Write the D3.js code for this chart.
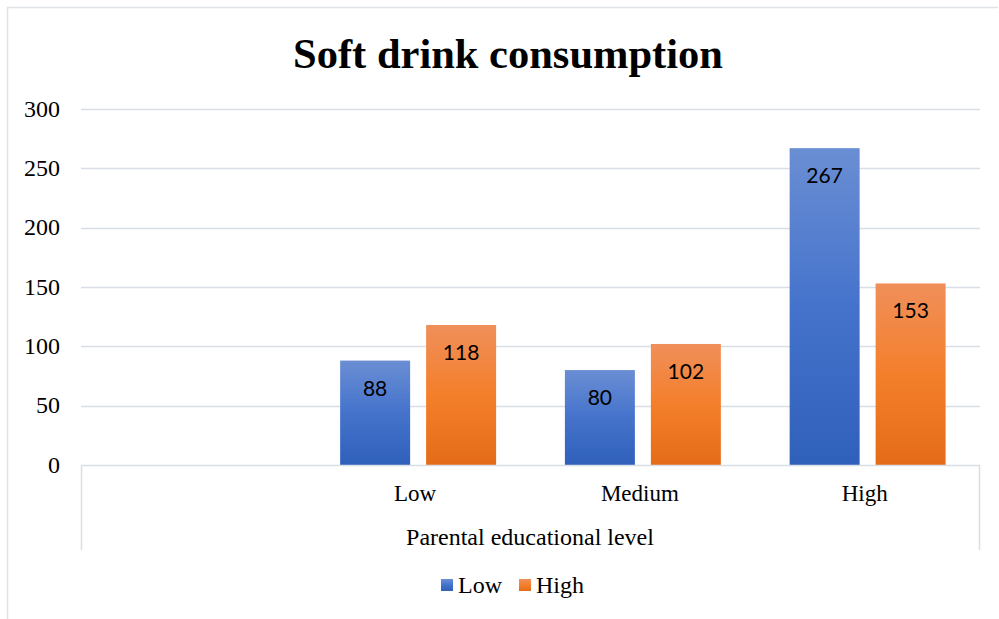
<!DOCTYPE html>
<html lang="en">
<head>
<meta charset="UTF-8">
<title>Soft drink consumption</title>
<script src="https://cdn.jsdelivr.net/npm/d3@7"></script>
<style>
  html, body { margin: 0; padding: 0; background: #fff; }
</style>
</head>
<body>
<script>
  // data
  const categories = ["", "Low", "Medium", "High"];
  const seriesNames = ["Low", "High"];
  const lowValues = [null, 88, 80, 267];
  const highValues = [null, 118, 102, 153];
  const yTicks = [0, 50, 100, 150, 200, 250, 300];

  const width = 999, height = 619;
  const plot = { left: 81, right: 980, top: 109, bottom: 465 };
  const serif = "'Liberation Serif', 'Times New Roman', serif";

  const svg = d3.select("body").append("svg")
    .attr("width", width)
    .attr("height", height);

  const defs = svg.append("defs");
  const gradBlue = defs.append("linearGradient").attr("id", "gBlue")
    .attr("x1", 0).attr("y1", 0).attr("x2", 0).attr("y2", 1);
  gradBlue.append("stop").attr("offset", "0%").attr("stop-color", "#6a8ed3");
  gradBlue.append("stop").attr("offset", "50%").attr("stop-color", "#4573cc");
  gradBlue.append("stop").attr("offset", "100%").attr("stop-color", "#2f60ba");
  const gradOrange = defs.append("linearGradient").attr("id", "gOrange")
    .attr("x1", 0).attr("y1", 0).attr("x2", 0).attr("y2", 1);
  gradOrange.append("stop").attr("offset", "0%").attr("stop-color", "#f08f5a");
  gradOrange.append("stop").attr("offset", "50%").attr("stop-color", "#f47f2b");
  gradOrange.append("stop").attr("offset", "100%").attr("stop-color", "#e46c18");
  const fills = { Low: "url(#gBlue)", High: "url(#gOrange)" };

  // chart border (only top and left edges are in frame)
  svg.append("path")
    .attr("d", "M7.5,619 V7.5 H998")
    .attr("fill", "none")
    .attr("stroke", "#dfe2e6")
    .attr("stroke-width", 1.5);

  svg.append("text")
    .attr("x", 508).attr("y", 68)
    .attr("text-anchor", "middle")
    .style("font-family", serif)
    .style("font-weight", "bold")
    .style("font-size", "42.5px")
    .text("Soft drink consumption");

  const y = d3.scaleLinear().domain([0, 300]).range([plot.bottom, plot.top]);
  const x0 = d3.scaleBand().domain(categories).range([plot.left, plot.right]);
  const x1 = d3.scaleBand().domain(seriesNames)
    .range([0, x0.bandwidth()])
    .paddingInner(0.186).paddingOuter(0.4);

  // gridlines
  svg.append("g")
    .selectAll("line")
    .data(yTicks.filter(d => d > 0))
    .join("line")
    .attr("x1", plot.left).attr("x2", plot.right)
    .attr("y1", d => Math.round(y(d)) + 0.5).attr("y2", d => Math.round(y(d)) + 0.5)
    .attr("stroke", "#d9dde5")
    .attr("stroke-width", 1.5);

  // y axis labels
  const yAxis = svg.append("g")
    .attr("transform", `translate(${plot.left - 21},0)`)
    .call(d3.axisLeft(y).tickValues(yTicks).tickSize(0).tickPadding(0))
    .attr("font-family", serif)
    .attr("font-size", 24);
  yAxis.select(".domain").remove();
  yAxis.selectAll("text")
    .attr("fill", "#000")
    .attr("dy", "0.3em");

  // bars
  const rows = categories.map((c, i) => ({
    cat: c,
    vals: [{ s: "Low", v: lowValues[i] }, { s: "High", v: highValues[i] }].filter(d => d.v != null)
  }));

  const groups = svg.append("g").selectAll("g")
    .data(rows)
    .join("g")
    .attr("transform", d => `translate(${x0(d.cat)},0)`);

  groups.selectAll("rect")
    .data(d => d.vals)
    .join("rect")
    .attr("x", d => x1(d.s))
    .attr("width", x1.bandwidth())
    .attr("y", d => y(d.v))
    .attr("height", d => y(0) - y(d.v))
    .attr("fill", d => fills[d.s]);

  groups.selectAll("text")
    .data(d => d.vals)
    .join("text")
    .attr("x", d => x1(d.s) + x1.bandwidth() / 2)
    .attr("y", d => y(d.v) + 35)
    .attr("text-anchor", "middle")
    .style("font-family", "Lato, 'Open Sans', sans-serif")
    .style("font-size", "21px")
    .attr("fill", "#000")
    .text(d => d.v);

  // category axis box
  const boxBottom = 550;
  svg.append("path")
    .attr("d", `M${plot.left + 0.5},${boxBottom} V${plot.bottom + 0.5} H${plot.right - 0.5} V${boxBottom}`)
    .attr("fill", "none")
    .attr("stroke", "#d9dde5")
    .attr("stroke-width", 1.5);

  const xAxis = svg.append("g")
    .attr("transform", `translate(0,${plot.bottom})`)
    .call(d3.axisBottom(x0).tickSize(0).tickPadding(0))
    .attr("font-family", serif)
    .attr("font-size", 23);
  xAxis.select(".domain").remove();
  xAxis.selectAll("text")
    .attr("x", -3)
    .attr("y", 36)
    .attr("dy", 0)
    .attr("fill", "#000");

  svg.append("text")
    .attr("x", 530).attr("y", 545)
    .attr("text-anchor", "middle")
    .style("font-family", serif)
    .style("font-size", "24px")
    .text("Parental educational level");

  // legend
  const legend = svg.append("g").attr("transform", "translate(441,579)");
  const legendX = { Low: 0, High: 78 };
  const items = legend.selectAll("g")
    .data(seriesNames)
    .join("g")
    .attr("transform", d => `translate(${legendX[d]},0)`);
  items.append("rect")
    .attr("width", 12).attr("height", 12)
    .attr("fill", d => fills[d]);
  items.append("text")
    .attr("x", 17).attr("y", 14)
    .style("font-family", serif)
    .style("font-size", "24px")
    .text(d => d);
</script>
</body>
</html>
